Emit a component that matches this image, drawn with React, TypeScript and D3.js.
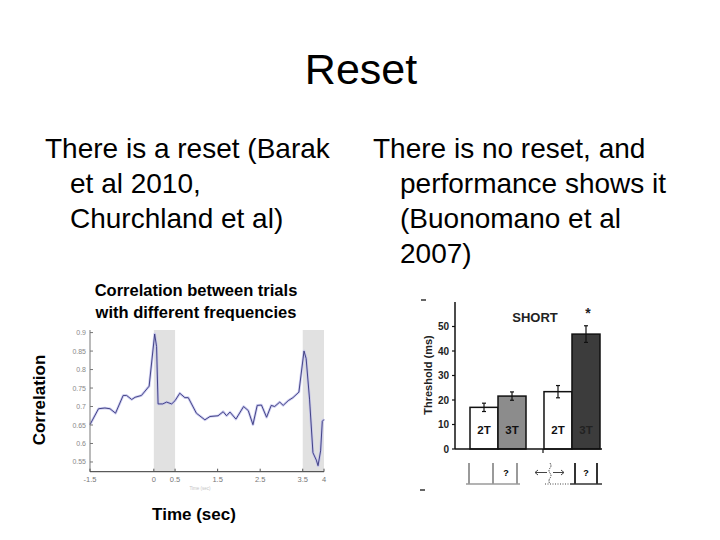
import React from "react";
import * as d3 from "d3";

const FONT = "'Liberation Sans', Arial, sans-serif";

// left panel: correlation over time
const CORR_T = [-1.5, -1.3, -1.15, -1.03, -0.9, -0.72, -0.64, -0.52, -0.44, -0.29, -0.11, 0.02, 0.065, 0.1, 0.21, 0.3, 0.42, 0.5, 0.61, 0.73, 0.81, 1.0, 1.2, 1.32, 1.51, 1.63, 1.71, 1.79, 1.93, 2.11, 2.22, 2.33, 2.43, 2.53, 2.65, 2.76, 2.84, 2.96, 3.04, 3.16, 3.27, 3.41, 3.53, 3.58, 3.66, 3.74, 3.82, 3.86, 3.92, 3.96, 4.0];
const CORR_R = [0.651, 0.694, 0.696, 0.694, 0.682, 0.73, 0.73, 0.719, 0.725, 0.73, 0.755, 0.896, 0.862, 0.707, 0.707, 0.712, 0.707, 0.716, 0.736, 0.724, 0.724, 0.682, 0.664, 0.673, 0.675, 0.686, 0.675, 0.685, 0.666, 0.7, 0.689, 0.651, 0.703, 0.704, 0.671, 0.703, 0.7, 0.712, 0.703, 0.716, 0.724, 0.739, 0.85, 0.83, 0.72, 0.575, 0.555, 0.54, 0.58, 0.66, 0.665];
const CORR_YTICKS = [0.55, 0.6, 0.65, 0.7, 0.75, 0.8, 0.85, 0.9];
const CORR_XTICKS = [-1.5, 0, 0.5, 1.5, 2.5, 3.5, 4];
const SHADED = [[0, 0.5], [3.5, 4]];

// right panel: thresholds
const BAR_GROUP = ["g1", "g1", "g2", "g2"];
const BAR_COND = ["2T", "3T", "2T", "3T"];
const BAR_VALUE = [17, 21.6, 23.4, 46.9];
const BAR_ERR = [1.7, 1.7, 2.5, 3.4];
const BAR_FILL = ["#ffffff", "#8c8c8c", "#ffffff", "#3c3c3c"];
const BAR_TEXT = ["#111", "#111", "#111", "#222"];
const THR_TICKS = [0, 10, 20, 30, 40, 50];

export default function App() {
  const x = d3.scaleLinear().domain([-1.5, 4]).range([90, 324]);
  const y = d3.scaleLinear().domain([0.5237, 0.907]).range([471.7, 330]);
  const pts = CORR_T.map((t, i) => [t, CORR_R[i]] as [number, number]);
  const line = d3.line<[number, number]>().x(d => x(d[0])).y(d => y(d[1]));
  const d = line(pts) ?? "";

  const gx = d3.scaleBand<string>().domain(["g1", "g2"]).range([470, 600]).paddingInner(0.243);
  const cx = d3.scaleBand<string>().domain(["2T", "3T"]).range([0, gx.bandwidth()]);
  const ty = d3.scaleLinear().domain([0, 60]).range([449, 302]);

  const g1 = gx("g1")!;
  const g2 = gx("g2")!;
  const iconY0 = 463, iconY1 = 484;

  return (
    <div style={{ position: "absolute", left: 0, top: 0 }}>
      <svg width={720} height={540} style={{ display: "block", background: "#fff" }} fontFamily={FONT}>
        <text x={361} y={84} fontSize={43} textAnchor="middle">Reset</text>

        <g fontSize={28}>
          <text x={45} y={158}>There is a reset (Barak</text>
          <text x={70} y={193}>et al 2010,</text>
          <text x={70} y={228}>Churchland et al)</text>
          <text x={373} y={158}>There is no reset, and</text>
          <text x={400} y={193}>performance shows it</text>
          <text x={400} y={228}>(Buonomano et al</text>
          <text x={400} y={263}>2007)</text>
        </g>

        {/* left chart */}
        <g fontWeight="bold" fontSize={16.5} textAnchor="middle">
          <text x={196} y={296}>Correlation between trials</text>
          <text x={196} y={318}>with different frequencies</text>
          <text x={194} y={520} fontSize={17}>Time (sec)</text>
          <text transform="translate(45,400) rotate(-90)" fontSize={17}>Correlation</text>
        </g>
        {SHADED.map(([a, b], i) => (
          <rect key={i} x={x(a)} y={330} width={x(b) - x(a)} height={471.7 - 330} fill="#e1e1e1" />
        ))}
        <path d={d} fill="none" stroke="#b9b9ec" strokeWidth={2.6} strokeOpacity={0.7} strokeLinejoin="round" />
        <path d={d} fill="none" stroke="#34347a" strokeWidth={0.9} strokeLinejoin="round" />
        <line x1={90} x2={90} y1={330} y2={471.7} stroke="#777" />
        <line x1={90} x2={324} y1={471.7} y2={471.7} stroke="#333" />
        {CORR_YTICKS.map(v => (
          <g key={v}>
            <line x1={90} x2={93} y1={y(v)} y2={y(v)} stroke="#777" />
            <text x={86} y={y(v) + 2.5} fontSize={7} fill="#888" textAnchor="end">{String(v)}</text>
          </g>
        ))}
        {CORR_XTICKS.map(v => (
          <g key={v}>
            <line x1={x(v)} x2={x(v)} y1={471.7} y2={468.7} stroke="#555" />
            <text x={x(v)} y={482} fontSize={7.5} fill="#777" textAnchor="middle">{String(v)}</text>
          </g>
        ))}
        <text x={200} y={490} fontSize={4.5} fill="#c4c4c4" textAnchor="middle">Time (sec)</text>

        {/* right chart */}
        <line x1={421} x2={426} y1={300} y2={300} stroke="#333" strokeWidth={1.5} />
        <line x1={420} x2={425} y1={490} y2={490} stroke="#333" strokeWidth={1.5} />
        <text transform="translate(432,375) rotate(-90)" fontSize={11} fontWeight="bold" textAnchor="middle" fill="#222">Threshold (ms)</text>
        {BAR_VALUE.map((v, i) => {
          const bx = gx(BAR_GROUP[i])! + cx(BAR_COND[i])!;
          const bw = cx.bandwidth();
          const mid = bx + bw / 2;
          return (
            <g key={i}>
              <rect x={bx} y={ty(v)} width={bw} height={ty(0) - ty(v)} fill={BAR_FILL[i]} stroke="#111" strokeWidth={1.5} />
              <line x1={mid} x2={mid} y1={ty(v + BAR_ERR[i])} y2={ty(v - BAR_ERR[i])} stroke="#111" strokeWidth={1.2} />
              <line x1={mid - 2} x2={mid + 2} y1={ty(v + BAR_ERR[i])} y2={ty(v + BAR_ERR[i])} stroke="#111" strokeWidth={1.2} />
              <line x1={mid - 2} x2={mid + 2} y1={ty(v - BAR_ERR[i])} y2={ty(v - BAR_ERR[i])} stroke="#111" strokeWidth={1.2} />
              <text x={mid} y={434} fontSize={11.5} fontWeight="bold" textAnchor="middle" fill={BAR_TEXT[i]}>{BAR_COND[i]}</text>
            </g>
          );
        })}
        <line x1={455} x2={455} y1={302} y2={449} stroke="#111" strokeWidth={1.5} />
        <line x1={455} x2={602} y1={449} y2={449} stroke="#111" strokeWidth={1.5} />
        <line x1={543} x2={543} y1={449} y2={453} stroke="#111" strokeWidth={1.2} />
        {THR_TICKS.map(v => (
          <g key={v}>
            <line x1={452} x2={455} y1={ty(v)} y2={ty(v)} stroke="#111" strokeWidth={1.2} />
            <text x={449} y={ty(v) + 3.5} fontSize={10} fontWeight="bold" textAnchor="end" fill="#222">{v}</text>
          </g>
        ))}
        <text x={535} y={322} fontSize={13} fontWeight="bold" textAnchor="middle" fill="#222">SHORT</text>
        <text x={588} y={318} fontSize={14} fontWeight="bold" textAnchor="middle" fill="#222">*</text>

        {/* stimulus icons */}
        <g stroke="#9a9a9a" strokeWidth={2}>
          <line x1={g1 - 1} x2={g1 - 1} y1={iconY0} y2={iconY1} />
          <line x1={g1 + 23} x2={g1 + 23} y1={iconY0} y2={iconY1} />
          <line x1={g1 + 47} x2={g1 + 47} y1={iconY0} y2={iconY1} />
          <line x1={g1 - 4} x2={g1 + 50} y1={iconY1} y2={iconY1} strokeWidth={1.5} />
        </g>
        <text x={506} y={476} fontSize={9} fontWeight="bold" textAnchor="middle">?</text>
        <g stroke="#444" strokeWidth={1}>
          <line x1={535} x2={547} y1={472.5} y2={472.5} />
          <path d="M535,472.5 l3,-2.5 M535,472.5 l3,2.5" fill="none" />
          <line x1={553} x2={564} y1={472.5} y2={472.5} />
          <path d="M564,472.5 l-3,-2.5 M564,472.5 l-3,2.5" fill="none" />
          <path d={`M${g2 + 6},${iconY0} q2,3 0,5 q-2,3 0,5 q2,3 0,5 q-2,3 0,6`} fill="none" strokeDasharray="1.5 1" />
          <line x1={545} x2={g2 + 26} y1={iconY1} y2={iconY1} strokeDasharray="1 1.5" />
        </g>
        <g stroke="#333" strokeWidth={2}>
          <line x1={g2 + 31} x2={g2 + 31} y1={iconY0} y2={iconY1} />
          <line x1={g2 + 53} x2={g2 + 53} y1={iconY0} y2={iconY1} />
          <line x1={g2 + 26} x2={g2 + 58} y1={iconY1} y2={iconY1} strokeWidth={1.5} />
        </g>
        <text x={586} y={476} fontSize={9} fontWeight="bold" textAnchor="middle">?</text>
      </svg>
    </div>
  );
}
